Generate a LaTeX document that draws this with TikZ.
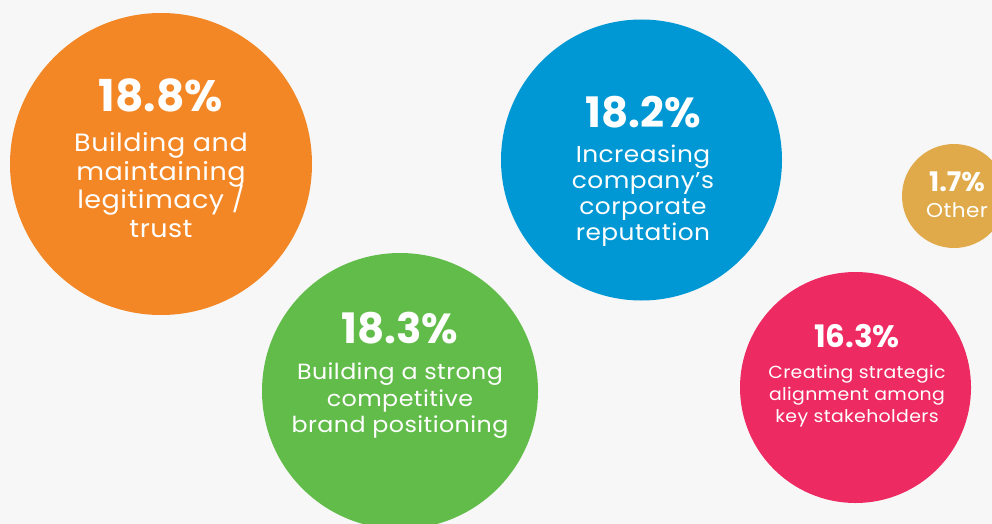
\documentclass[tikz,border=0pt]{standalone}
\usepackage{fontspec}
\setmainfont{Poppins}
\newfontfamily\descfont[FakeStretch=1.08,LetterSpace=2]{Poppins}
\definecolor{bgc}{HTML}{F7F7F7}
\definecolor{corange}{HTML}{F38726}
\definecolor{cblue}{HTML}{0098D4}
\definecolor{cgreen}{HTML}{62BC4A}
\definecolor{cpink}{HTML}{EE2A62}
\definecolor{cgold}{HTML}{E0AA4A}
\tikzset{
  bubble/.style={circle, inner sep=0pt, outer sep=0pt, draw=none},
  pct/.style={text=white, font=\bfseries\fontsize{#1}{#1}\selectfont, anchor=base, inner sep=0pt},
  desc/.style={text=white, font=\descfont\fontsize{#1}{#1}\selectfont, anchor=base, inner sep=0pt}
}
\begin{document}
\begin{tikzpicture}[x=1pt,y=-1pt]
\fill[bgc] (0,0) rectangle (992,524);
\useasboundingbox (0,0) rectangle (992,524);
\clip (0,0) rectangle (992,524);
% circles
\node[bubble, fill=corange, minimum size=302pt] (orange) at (161,164) {};
\node[bubble, fill=cblue, minimum size=281pt] (blue) at (641.5,160) {};
\node[bubble, fill=cgreen, minimum size=276pt] (green) at (400,391) {};
\node[bubble, fill=cpink, minimum size=231pt] (pink) at (855.5,387.5) {};
\node[bubble, fill=cgold, minimum size=104pt] (gold) at (954,196) {};
% orange text
\node[pct=44] (o0) at (161,112) {18.8\%};
\node[desc=25] (o1) at (161,151) {Building and};
\node[desc=25] (o2) at (161,180) {maintaining};
\node[desc=25] (o3) at (161,208) {legitimacy /};
\node[desc=25] (o4) at (161,237) {trust};
% blue text
\node[pct=42] (b0) at (643,128) {18.2\%};
\node[desc=23] (b1) at (643,162) {Increasing};
\node[desc=23] (b2) at (643,188) {company’s};
\node[desc=23] (b3) at (643,214) {corporate};
\node[desc=23] (b4) at (643,240) {reputation};
% green text
\node[pct=42] (g0) at (400,343) {18.3\%};
\node[desc=22] (g1) at (400,379) {Building a strong};
\node[desc=22] (g2) at (400,406) {competitive};
\node[desc=22] (g3) at (400,432) {brand positioning};
% pink text
\node[pct=31] (p0) at (857,347) {16.3\%};
\node[desc=17.5] (p1) at (857,378) {Creating strategic};
\node[desc=17.5] (p2) at (857,400) {alignment among};
\node[desc=17.5] (p3) at (857,422) {key stakeholders};
% gold text
\node[pct=27] (y0) at (957,191) {1.7\%};
\node[desc=20] (y1) at (957,217) {Other};
\end{tikzpicture}
\end{document}
